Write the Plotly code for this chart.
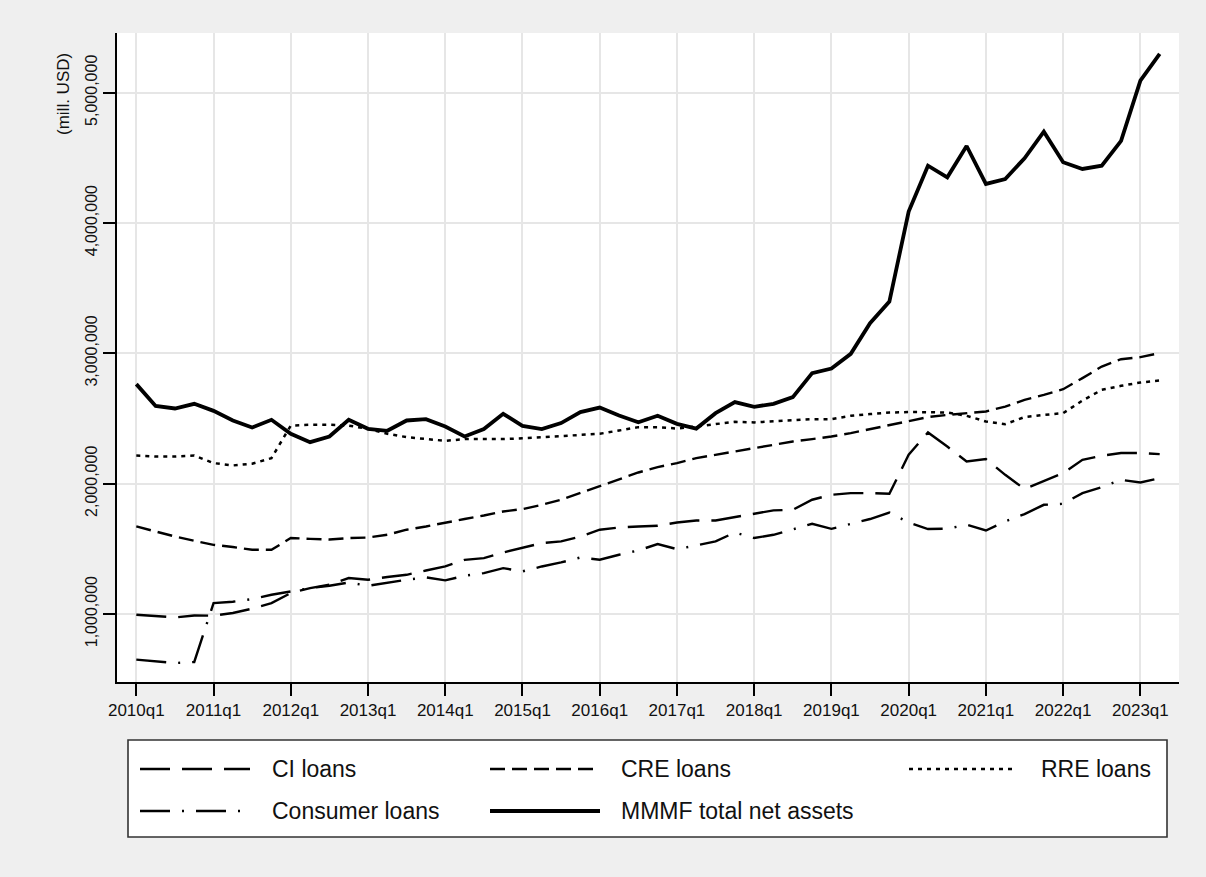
import plotly.graph_objects as go

# Quarterly series, 2010q1 - 2023q2 (mill. USD)
quarters = [f"{y}q{q}" for y in range(2010, 2024) for q in range(1, 5)][:54]

ci_loans = [995000, 982000, 974000, 989000, 987000, 1008000, 1041000, 1084000,
            1161000, 1199000, 1225000, 1276000, 1263000, 1284000, 1301000, 1334000,
            1365000, 1416000, 1429000, 1472000, 1506000, 1544000, 1557000, 1595000,
            1647000, 1664000, 1672000, 1677000, 1702000, 1718000, 1718000, 1744000,
            1769000, 1795000, 1800000, 1877000, 1915000, 1928000, 1928000, 1923000,
            2222000, 2393000, 2285000, 2170000, 2189000, 2068000, 1959000, 2017000,
            2081000, 2183000, 2214000, 2235000, 2235000, 2227000]

cre_loans = [1672000, 1633000, 1595000, 1562000, 1531000, 1514000, 1493000, 1493000,
             1583000, 1577000, 1572000, 1583000, 1587000, 1608000, 1647000, 1672000,
             1698000, 1729000, 1756000, 1787000, 1805000, 1838000, 1877000, 1928000,
             1984000, 2035000, 2086000, 2127000, 2158000, 2196000, 2222000, 2247000,
             2273000, 2298000, 2324000, 2342000, 2362000, 2388000, 2419000, 2446000,
             2480000, 2511000, 2528000, 2541000, 2554000, 2592000, 2643000, 2682000,
             2725000, 2810000, 2899000, 2955000, 2971000, 3002000]

rre_loans = [2216000, 2209000, 2209000, 2216000, 2158000, 2140000, 2153000, 2196000,
             2446000, 2452000, 2452000, 2446000, 2421000, 2383000, 2357000, 2342000,
             2329000, 2342000, 2342000, 2342000, 2348000, 2357000, 2367000, 2372000,
             2383000, 2408000, 2434000, 2434000, 2423000, 2439000, 2459000, 2475000,
             2470000, 2480000, 2490000, 2495000, 2495000, 2521000, 2534000, 2546000,
             2550000, 2546000, 2546000, 2521000, 2477000, 2457000, 2511000, 2528000,
             2541000, 2638000, 2720000, 2751000, 2776000, 2792000]

consumer_loans = [650000, 637000, 624000, 632000, 1084000, 1094000, 1115000, 1148000,
                  1173000, 1199000, 1217000, 1242000, 1217000, 1242000, 1263000, 1281000,
                  1258000, 1294000, 1314000, 1352000, 1327000, 1365000, 1396000, 1434000,
                  1417000, 1455000, 1488000, 1537000, 1498000, 1526000, 1557000, 1626000,
                  1583000, 1608000, 1647000, 1692000, 1654000, 1692000, 1729000, 1779000,
                  1702000, 1652000, 1655000, 1685000, 1641000, 1710000, 1767000, 1838000,
                  1846000, 1928000, 1974000, 2030000, 2009000, 2043000]

mmmf_assets = [2764000, 2597000, 2577000, 2613000, 2559000, 2485000, 2431000, 2490000,
               2383000, 2319000, 2362000, 2490000, 2421000, 2406000, 2485000, 2495000,
               2439000, 2362000, 2419000, 2536000, 2444000, 2419000, 2465000, 2549000,
               2584000, 2523000, 2472000, 2521000, 2459000, 2423000, 2541000, 2626000,
               2590000, 2613000, 2664000, 2848000, 2884000, 2996000, 3232000, 3397000,
               4088000, 4440000, 4351000, 4591000, 4300000, 4338000, 4497000, 4701000,
               4466000, 4415000, 4440000, 4630000, 5092000, 5297000]

y_ticks = [1000000, 2000000, 3000000, 4000000, 5000000]

FONT = "Liberation Sans, Arial, sans-serif"
INK = "#111111"

# name, values, dash pattern, width
series = [
    ("CI loans", ci_loans, "30px,12px", 2.4),
    ("CRE loans", cre_loans, "15px,7px", 2.4),
    ("RRE loans", rre_loans, "4px,5px", 2.5),
    ("Consumer loans", consumer_loans, "30px,12px,2px,12px", 2.4),
    ("MMMF total net assets", mmmf_assets, "solid", 3.8),
]

x_idx = list(range(len(quarters)))

fig = go.Figure()
for name, vals, dash, width in series:
    fig.add_trace(go.Scatter(
        x=x_idx, y=vals, mode="lines", name=name,
        line=dict(color="black", dash=dash, width=width),
        showlegend=False,
    ))

# page geometry (pixels)
W, H = 1206, 877
ML, MR, MT, MB = 117, 27, 33, 195
PW, PH = W - ML - MR, H - MT - MB


def px_x(p):
    return (p - ML) / PW


def px_y(p):
    return (H - MB - p) / PH


shapes = []
annotations = []

# legend box
shapes.append(dict(type="rect", xref="paper", yref="paper",
                   x0=px_x(128), x1=px_x(1167), y0=px_y(837), y1=px_y(740),
                   line=dict(color="#333333", width=1.6), fillcolor="white",
                   layer="above"))

legend_slots = [
    # sample x0, sample x1, row y, text x, text anchor
    (140, 250, 769, 270, "left"),
    (490, 600, 769, 619, "left"),
    (909, 1012, 769, 1153, "right"),
    (140, 250, 811, 270, "left"),
    (490, 600, 811, 619, "left"),
]
for (name, _, dash, width), (sx0, sx1, sy, tx, anchor) in zip(series, legend_slots):
    shapes.append(dict(type="line", xref="paper", yref="paper",
                       x0=px_x(sx0), x1=px_x(sx1), y0=px_y(sy), y1=px_y(sy),
                       line=dict(color="black", dash=dash,
                                 width=width + (0.4 if dash == "solid" else 0)),
                       layer="above"))
    annotations.append(dict(xref="paper", yref="paper", x=px_x(tx), y=px_y(sy),
                            text=name, showarrow=False, xanchor=anchor,
                            yanchor="middle",
                            font=dict(family=FONT, size=23, color=INK)))

# y-axis title
annotations.append(dict(xref="paper", yref="paper", x=px_x(63), y=px_y(94),
                        text="(mill. USD)", showarrow=False, textangle=-90,
                        xanchor="center", yanchor="middle",
                        font=dict(family=FONT, size=17, color=INK)))

fig.update_layout(
    width=W, height=H,
    margin=dict(l=ML, r=MR, t=MT, b=MB, pad=0),
    paper_bgcolor="#efefef",
    plot_bgcolor="white",
    font=dict(family=FONT, color=INK),
    shapes=shapes,
    annotations=annotations,
    showlegend=False,
)

fig.update_xaxes(
    range=[-1, 54],
    tickmode="array",
    tickvals=x_idx[::4],
    ticktext=quarters[::4],
    tickfont=dict(family=FONT, size=17, color=INK),
    ticks="outside", ticklen=12, tickwidth=1.6, tickcolor="black",
    showline=True, linecolor="black", linewidth=2,
    showgrid=True, gridcolor="#e6e6e6", gridwidth=2,
    zeroline=False,
)

fig.update_yaxes(
    range=[478500, 5458000],
    tickmode="array",
    tickvals=y_ticks,
    tickformat=",d",
    tickangle=-90,
    tickfont=dict(family=FONT, size=16, color=INK),
    ticks="outside", ticklen=12, tickwidth=1.6, tickcolor="black",
    showline=True, linecolor="black", linewidth=2,
    showgrid=True, gridcolor="#e6e6e6", gridwidth=2,
    zeroline=False,
)

fig.write_html("out.html")
